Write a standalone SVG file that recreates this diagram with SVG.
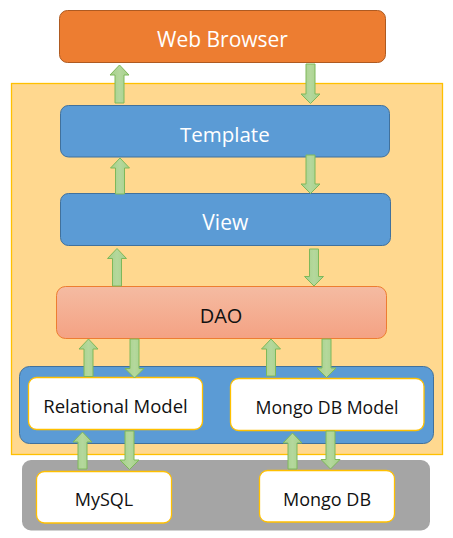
<svg xmlns="http://www.w3.org/2000/svg" width="453" height="538" viewBox="0 0 453 538">
<defs>
<linearGradient id="daoGrad" x1="0" y1="0" x2="0" y2="1">
<stop offset="0" stop-color="#F5BBA2"/>
<stop offset="1" stop-color="#F4A283"/>
</linearGradient>
<linearGradient id="arrGrad" x1="0" y1="0" x2="1" y2="0">
<stop offset="0" stop-color="#A6CF8A"/>
<stop offset="0.5" stop-color="#B4D89C"/>
<stop offset="1" stop-color="#A6CF8A"/>
</linearGradient>
</defs>
<style>
text{font-family:"Open Sans","Noto Sans","DejaVu Sans",sans-serif;font-size:19px;text-anchor:middle}
.wt{fill:#FFFFFF}
.bk{fill:#111111}
.blue{fill:#5B9BD5;stroke:#41719C;stroke-width:1}
.white{fill:#FFFFFF;stroke:#FFC000;stroke-width:1.3}
.arr{fill:url(#arrGrad);stroke:#7EB85A;stroke-width:1}
</style>
<g id="app-layer">
<rect x="11.5" y="83.5" width="431" height="371" fill="#FFD88F" stroke="#FFC000" stroke-width="1.3"/>
</g>
<g id="web-browser">
<rect x="59.5" y="10.5" width="326" height="52" rx="8" fill="#ED7D31" stroke="#AE5A21" stroke-width="1"/>
<text class="wt" x="222.5" y="47" style="font-size:21px">Web Browser</text>
</g>
<g id="template">
<rect x="60.5" y="105.5" width="329" height="51.5" rx="8" class="blue"/>
<text class="wt" x="224.8" y="141.5" style="font-size:20.5px">Template</text>
</g>
<g id="view">
<rect x="60.5" y="193.5" width="330" height="52" rx="8" class="blue"/>
<text class="wt" x="225.3" y="230" style="font-size:21px">View</text>
</g>
<g id="dao">
<rect x="56.5" y="286.5" width="330" height="52" rx="9" fill="url(#daoGrad)" stroke="#ED7D31" stroke-width="1"/>
<text class="bk" x="221" y="322.5" style="font-size:20px">DAO</text>
</g>
<g id="model-layer">
<rect x="19.5" y="366.5" width="414" height="77" rx="10" class="blue"/>
</g>
<g id="relational-model">
<rect x="28.5" y="377.5" width="174" height="52" rx="8" class="white"/>
<text class="bk" x="115.5" y="413" style="font-size:18.5px">Relational Model</text>
</g>
<g id="mongo-db-model">
<rect x="230.5" y="378.5" width="193.5" height="52" rx="8" class="white"/>
<text class="bk" x="327" y="414" style="font-size:17.7px">Mongo DB Model</text>
</g>
<g id="db-layer">
<rect x="22" y="460" width="408" height="70.5" rx="9" fill="#A5A5A5"/>
</g>
<g id="mysql">
<rect x="36.5" y="471.5" width="135" height="51.5" rx="8" class="white"/>
<text class="bk" x="104" y="506" style="font-size:18px">MySQL</text>
</g>
<g id="mongo-db">
<rect x="259.5" y="470.5" width="135" height="51.5" rx="8" class="white"/>
<text class="bk" x="327" y="505.5" style="font-size:18px">Mongo DB</text>
</g>
<g id="connectors">
<path class="arr" d="M119.5,65 L129,75 L124,75 L124,103 L115,103 L115,75 L110,75 Z"/>
<path class="arr" d="M306,64 L315,64 L315,94 L320,94 L310.5,103.5 L301,94 L306,94 Z"/>
<path class="arr" d="M120,158 L129.5,168 L124.5,168 L124.5,194 L115.5,194 L115.5,168 L110.5,168 Z"/>
<path class="arr" d="M306,155 L315,155 L315,184 L320,184 L310.5,193.5 L301,184 L306,184 Z"/>
<path class="arr" d="M117,248.5 L126.5,258.5 L121.5,258.5 L121.5,286 L112.5,286 L112.5,258.5 L107.5,258.5 Z"/>
<path class="arr" d="M309.5,249 L318.5,249 L318.5,276.5 L323.5,276.5 L314,286 L304.5,276.5 L309.5,276.5 Z"/>
<path class="arr" d="M88.5,339 L98,349 L93,349 L93,376.5 L84,376.5 L84,349 L79,349 Z"/>
<path class="arr" d="M130,339 L139,339 L139,368.5 L144,368.5 L134.5,378 L125,368.5 L130,368.5 Z"/>
<path class="arr" d="M271,339 L280.5,349 L275.5,349 L275.5,376 L266.5,376 L266.5,349 L261.5,349 Z"/>
<path class="arr" d="M322,339 L331,339 L331,368 L336,368 L326.5,377.5 L317,368 L322,368 Z"/>
<path class="arr" d="M82.5,432 L92,442 L87,442 L87,469 L78,469 L78,442 L73,442 Z"/>
<path class="arr" d="M125,431 L134,431 L134,460 L139,460 L129.5,469.5 L120,460 L125,460 Z"/>
<path class="arr" d="M292.5,433 L302,443 L297,443 L297,469 L288,469 L288,443 L283,443 Z"/>
<path class="arr" d="M326,431 L335,431 L335,459.5 L340,459.5 L330.5,469 L321,459.5 L326,459.5 Z"/>
</g>
</svg>
